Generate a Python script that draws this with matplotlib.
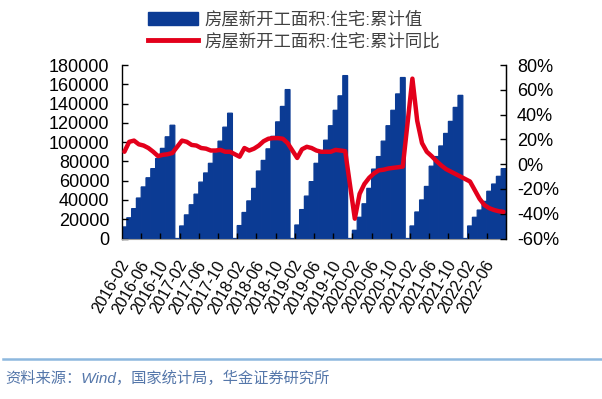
import numpy as np
import matplotlib
matplotlib.use('Agg')
import matplotlib.pyplot as plt
from matplotlib.transforms import ScaledTranslation
from matplotlib.patches import Patch
from matplotlib.lines import Line2D
from matplotlib.ticker import FuncFormatter

plt.rcParams['font.family'] = ['Liberation Sans', 'Noto Sans CJK SC', 'DejaVu Sans']

# ---- data (Feb..Dec for each year; January is not published) ----
years = [2016, 2017, 2018, 2019, 2020, 2021, 2022]
area_2016 = [12000, 21500, 31000, 42000, 53500, 63000, 72500, 83000, 93500, 105500, 117500]
area_2017 = [13000, 24500, 35000, 46000, 58500, 68000, 78000, 89000, 101000, 115500, 130000]
area_2018 = [13400, 27000, 39000, 52000, 70000, 81000, 93000, 106000, 121000, 137000, 154500]
area_2019 = [14000, 30000, 44000, 59000, 78000, 90000, 102000, 117000, 133000, 148000, 169000]
area_2020 = [8500, 22000, 36000, 52000, 72000, 85000, 101000, 117000, 133000, 150000, 167000]
area_2021 = [13000, 27500, 40000, 54000, 75000, 85000, 96000, 109000, 121500, 136000, 148500]
area_2022 = [13000, 22000, 29500, 38500, 49000, 56500, 64500, 72500]

yoy_2016 = [10, 18, 19, 16, 15, 13, 10, 6.5, 7.5, 8, 9]
yoy_2017 = [19, 18, 15.5, 15, 13, 12.5, 11, 11, 11.5, 10, 10]
yoy_2018 = [6, 13, 11, 12.5, 15, 18.5, 20.5, 21, 21, 20.5, 17]
yoy_2019 = [5, 12, 14, 13, 11, 10, 10, 10, 11.5, 11, 10.5]
yoy_2020 = [-44, -24, -16, -11, -7.5, -5, -4.5, -3.5, -3, -2.5, -2]
yoy_2021 = [69, 35, 17, 10, 6.5, 2.5, -1, -4, -6, -8, -10]
yoy_2022 = [-14, -21, -28, -33, -35.5, -37, -38, -38.5]

area_by_year = [area_2016, area_2017, area_2018, area_2019, area_2020, area_2021, area_2022]
yoy_by_year = [yoy_2016, yoy_2017, yoy_2018, yoy_2019, yoy_2020, yoy_2021, yoy_2022]

label_bar = '房屋新开工面积:住宅:累计值'
label_line = '房屋新开工面积:住宅:累计同比'
source = '资料来源：Wind，国家统计局，华金证券研究所'

categories, area, yoy = [], [], []
for yr, a_vals, r_vals in zip(years, area_by_year, yoy_by_year):
    if yr != years[0]:
        categories.append(f'{yr}-01')
        area.append(np.nan)
        yoy.append(np.nan)
    for k, (a, r) in enumerate(zip(a_vals, r_vals)):
        categories.append(f'{yr}-{k + 2:02d}')
        area.append(a)
        yoy.append(r)
area = np.array(area, dtype=float)
yoy = np.array(yoy, dtype=float)
x = np.arange(len(categories))

BLUE = '#0B3B94'
RED = '#E3001B'

fig = plt.figure(figsize=(6.02, 3.99), dpi=100)
ax = fig.add_axes([122 / 602, 1 - 238.5 / 399, (506 - 122) / 602, (238.5 - 65) / 399])
bars = ax.bar(x, np.nan_to_num(area), width=1.0, color=BLUE, edgecolor=BLUE, linewidth=0.9)
for b in bars:
    b.set_snap(False)
ax.set_xlim(-0.5, len(categories) - 0.5)
ax.set_ylim(0, 180000)
ax.set_yticks(np.arange(0, 180001, 20000))

ax2 = ax.twinx()
valid = ~np.isnan(yoy)
ax2.plot(x[valid], yoy[valid], color=RED, lw=3.2, solid_joinstyle='round', solid_capstyle='round')
ax2.set_ylim(-60, 80)
ax2.set_yticks(np.arange(-60, 81, 20))
ax2.yaxis.set_major_formatter(FuncFormatter(lambda v, p: f'{v:.0f}%'))

for a in (ax, ax2):
    a.spines['top'].set_visible(False)
ax.spines['bottom'].set_color('#999999')
ax2.spines['bottom'].set_visible(False)
ax.spines['left'].set_linewidth(1.0)
ax2.spines['right'].set_linewidth(1.0)
ax2.spines['left'].set_visible(False)

ax.tick_params(axis='y', direction='in', length=4, width=1, labelsize=13, pad=9)
ax2.tick_params(axis='y', direction='in', length=4, width=1, labelsize=13, pad=8)

ax.set_xticks(x[::4])
ax.set_xticklabels([categories[i] for i in x[::4]], rotation=60, ha='right', fontsize=11.5)
ax.set_xticks(np.arange(3.5, len(categories) - 1, 4), minor=True)
ax.tick_params(axis='x', which='major', length=0, pad=14)
ax.tick_params(axis='x', which='minor', direction='in', length=4, width=1, color='#000000')
offset = ScaledTranslation(0.08, 0, fig.dpi_scale_trans)
for lab in ax.get_xticklabels():
    lab.set_transform(lab.get_transform() + offset)

handles = [Patch(facecolor=BLUE, edgecolor=BLUE),
           Line2D([0], [0], color=RED, lw=3.5)]
leg = fig.legend(handles, [label_bar, label_line], loc='upper left',
                 bbox_to_anchor=(148 / 602, 1 - 11 / 399), frameon=False,
                 fontsize=12.5, handlelength=2.9, handleheight=0.85,
                 handletextpad=0.35, labelspacing=0.3, borderpad=0, borderaxespad=0)
for t in leg.get_texts():
    t.set_color('#404040')

fig.add_artist(Line2D([3 / 602, 1], [1 - 358.5 / 399] * 2, color='#8DB8DE', lw=1.8,
                      transform=fig.transFigure))
fig.text(5 / 602, 1 - 378 / 399, source, fontsize=11, style='italic', color='#5577AA',
         va='center', ha='left')

fig.savefig('out.png', dpi=100)
